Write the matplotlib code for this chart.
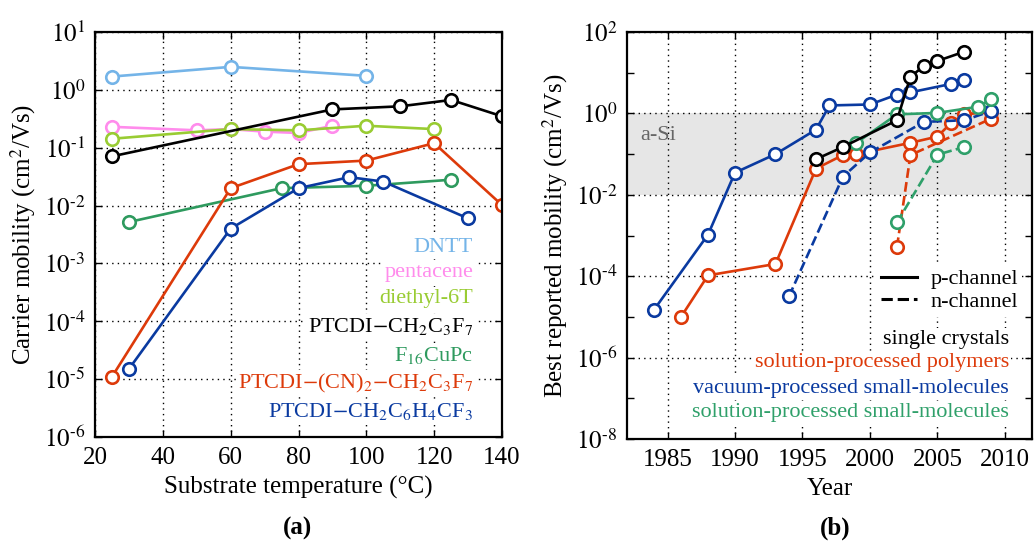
import math
import matplotlib
matplotlib.use("Agg")
import matplotlib.pyplot as plt
from matplotlib.lines import Line2D
from matplotlib.ticker import LogLocator, FixedLocator, FuncFormatter, NullFormatter

plt.rcParams['font.family'] = ['Liberation Serif', 'DejaVu Serif']
plt.rcParams['mathtext.fontset'] = 'stix'

# ---- panel (a): carrier mobility vs substrate temperature ----
dntt_t = [25, 60, 100]
dntt_mu = [1.7, 2.5, 1.75]
pent_t = [25, 50, 60, 70, 80, 90]
pent_mu = [0.23, 0.20, 0.21, 0.19, 0.18, 0.24]
de6t_t = [25, 60, 80, 100, 120]
de6t_mu = [0.143, 0.21, 0.20, 0.24, 0.21]
ptc_t = [25, 90, 110, 125, 140]
ptc_mu = [0.071, 0.46, 0.52, 0.67, 0.35]
f16_t = [30, 75, 100, 125]
f16_mu = [0.0052, 0.020, 0.022, 0.028]
cn_t = [25, 60, 80, 100, 120, 140]
cn_mu = [1.1e-5, 0.020, 0.052, 0.060, 0.12, 0.0102]
cf3_t = [30, 60, 80, 95, 105, 130]
cf3_mu = [1.5e-5, 0.004, 0.020, 0.031, 0.026, 0.006]

series_a = [
    (dntt_t, dntt_mu, '#74b4e8', 'DNTT'),
    (pent_t, pent_mu, '#ff8cec', 'pentacene'),
    (de6t_t, de6t_mu, '#99cc33', 'diethyl-6T'),
    (ptc_t, ptc_mu, 'black', r'PTCDI$-$CH$_2$C$_3$F$_7$'),
    (f16_t, f16_mu, '#2e9a5e', r'F$_{16}$CuPc'),
    (cn_t, cn_mu, '#dd3a0a', r'PTCDI$-$(CN)$_2$$-$CH$_2$C$_3$F$_7$'),
    (cf3_t, cf3_mu, '#0a3aa0', r'PTCDI$-$CH$_2$C$_6$H$_4$CF$_3$'),
]

# ---- panel (b): best reported mobility vs year ----
xtal_yr = [1996, 1998, 2002, 2003, 2004, 2005, 2007]
xtal_mu = [0.075, 0.15, 0.68, 8.0, 14.6, 19.5, 33]
poly_p_yr = [1986, 1988, 1993, 1996, 1998, 1999, 2003, 2005, 2006, 2007, 2009]
poly_p_mu = [1e-5, 1.05e-4, 2.0e-4, 0.044, 0.095, 0.10, 0.19, 0.27, 0.58, 0.95, 1.1]
poly_n_yr = [2002, 2003, 2009]
poly_n_mu = [5.2e-4, 0.095, 0.75]
vac_p_yr = [1984, 1988, 1990, 1993, 1996, 1997, 2000, 2002, 2003, 2006, 2007]
vac_p_mu = [1.5e-5, 1.05e-3, 0.035, 0.10, 0.40, 1.57, 1.66, 2.9, 3.3, 5.3, 6.6]
vac_n_yr = [1994, 1998, 2000, 2004, 2007, 2009]
vac_n_mu = [3.2e-5, 0.028, 0.11, 0.62, 0.68, 1.15]
sol_p_yr = [1999, 2002, 2005, 2008, 2009]
sol_p_mu = [0.19, 0.95, 1.03, 1.46, 2.25]
sol_n_yr = [2002, 2005, 2007]
sol_n_mu = [0.0021, 0.097, 0.15]

red = '#dd3a0a'
blue = '#0a3aa0'
green = '#2fa06a'

series_b = [
    (poly_p_yr, poly_p_mu, red, '-'),
    (poly_n_yr, poly_n_mu, red, '--'),
    (vac_n_yr, vac_n_mu, blue, '--'),
    (vac_p_yr, vac_p_mu, blue, '-'),
    (sol_n_yr, sol_n_mu, green, '--'),
    (sol_p_yr, sol_p_mu, green, '-'),
    (xtal_yr, xtal_mu, 'black', '-'),
]
categories_b = [('single crystals', 'black'),
                ('solution-processed polymers', red),
                ('vacuum-processed small-molecules', blue),
                ('solution-processed small-molecules', green)]

FS = 16
LFS = 18
TFS = 18


def pow_label(v, pos):
    e = round(math.log10(v))
    s = str(abs(e)) if e >= 0 else '\u2010' + str(abs(e))
    return r'$10^{%s}$' % s


pow_fmt = FuncFormatter(pow_label)

fig = plt.figure(figsize=(10.34, 5.43), dpi=100)
ax1 = fig.add_axes([0.0919, 0.1952, 0.3936, 0.7458])
ax2 = fig.add_axes([0.6064, 0.1915, 0.3916, 0.7495])

mk = dict(marker='o', markersize=9, markerfacecolor='white', markeredgewidth=1.9, linewidth=1.9)

for t, mu, c, lab in series_a:
    ax1.plot(t, mu, color=c, markeredgecolor=c, **mk)

ax1.set_yscale('log')
ax1.set_xlim(20, 140)
ax1.set_ylim(1e-6, 10)
ax1.set_xticks(range(20, 141, 20))
ax1.yaxis.set_major_locator(LogLocator(base=10, numticks=20))
ax1.yaxis.set_major_formatter(pow_fmt)
ax1.yaxis.set_minor_locator(FixedLocator([]))
ax1.set_xlabel('Substrate temperature (°C)', fontsize=LFS, labelpad=5)
ax1.set_ylabel(r'Carrier mobility (cm$^2$/Vs)', fontsize=LFS, labelpad=4)

leg_y = [0.467, 0.407, 0.341, 0.274, 0.202, 0.133, 0.062]
for (t, mu, c, lab), yy in zip(series_a, leg_y):
    ax1.text(0.929, yy, lab, color=c, fontsize=FS, ha='right', va='center',
             transform=ax1.transAxes, zorder=5,
             bbox=dict(facecolor='white', edgecolor='none', pad=1.5))

ax2.axhspan(1e-2, 1, color='#e6e6e6', zorder=0, linewidth=0)
ax2.text(0.032, 0.747, 'a-Si', color='#666666', fontsize=FS, va='center',
         transform=ax2.transAxes)
for yr, mu, c, ls in series_b:
    ax2.plot(yr, mu, color=c, markeredgecolor=c, linestyle=ls, **mk)

ax2.set_yscale('log')
ax2.set_xlim(1982, 2012)
ax2.set_ylim(1e-8, 1e2)
ax2.set_xticks(range(1985, 2011, 5))
ax2.yaxis.set_major_locator(FixedLocator([1e-8, 1e-6, 1e-4, 1e-2, 1, 1e2]))
ax2.yaxis.set_major_formatter(pow_fmt)
ax2.yaxis.set_minor_locator(FixedLocator([1e-7, 1e-5, 1e-3, 1e-1, 10]))
ax2.yaxis.set_minor_formatter(NullFormatter())
ax2.set_xlabel('Year', fontsize=LFS, labelpad=5)
ax2.set_ylabel(r'Best reported mobility (cm$^2$/Vs)', fontsize=LFS, labelpad=4)

handles = [Line2D([], [], color='black', linestyle='-', linewidth=2.2),
           Line2D([], [], color='black', linestyle='--', linewidth=2.2)]
leg = ax2.legend(handles, ['p-channel', 'n-channel'], loc='center left',
                 bbox_to_anchor=(0.59, 0.365), frameon=True, fontsize=FS,
                 handlelength=1.6, handletextpad=0.6, labelspacing=0.1,
                 borderpad=0.2, fancybox=False)
leg.get_frame().set_edgecolor('none')
leg.get_frame().set_facecolor('white')
leg.get_frame().set_alpha(1)

cat_y = [0.2457, 0.187, 0.125, 0.064]
for (lab, c), yy in zip(categories_b, cat_y):
    ax2.text(0.943, yy, lab, color=c, fontsize=FS, ha='right', va='center',
             transform=ax2.transAxes, zorder=5,
             bbox=dict(facecolor='white', edgecolor='none', pad=1.5))

for ax in (ax1, ax2):
    ax.grid(True, which='major', linestyle=(0, (1, 3)), color='black', linewidth=1.0)
    ax.tick_params(which='both', direction='in', top=True, right=True,
                   labelsize=TFS, length=5, width=1.0, pad=7)
    for s in ax.spines.values():
        s.set_linewidth(1.6)
    ax.set_axisbelow(True)

fig.text(0.288, 0.015, '(a)', fontsize=18, fontweight='bold', ha='center')
fig.text(0.808, 0.015, '(b)', fontsize=18, fontweight='bold', ha='center')

fig.savefig('out.png', dpi=100)
